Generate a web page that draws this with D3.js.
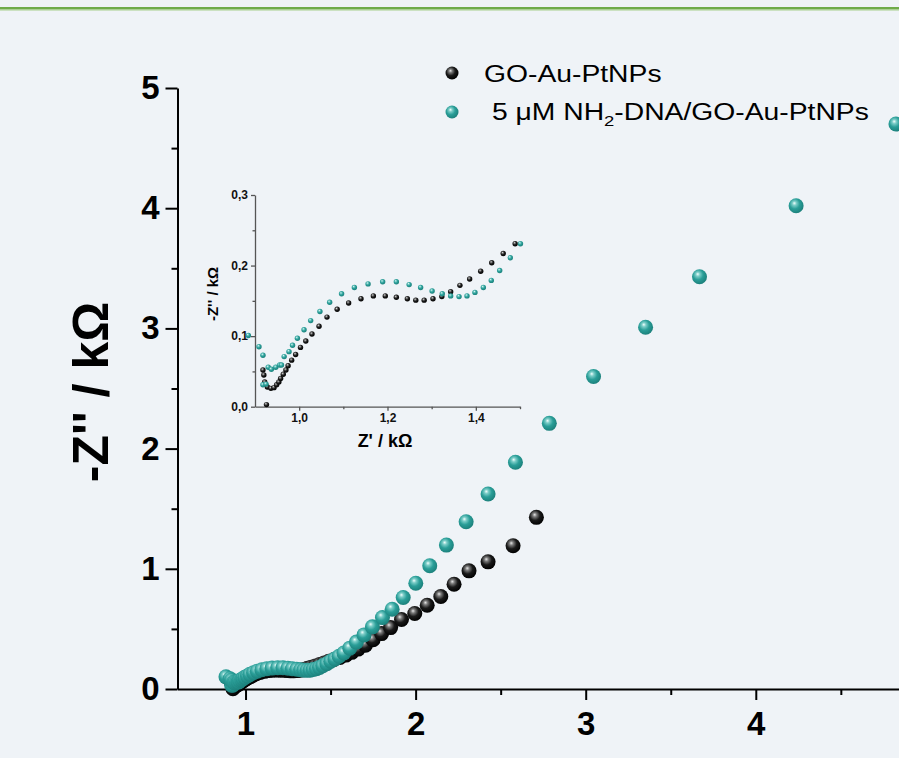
<!DOCTYPE html>
<html>
<head>
<meta charset="utf-8">
<script src="https://cdn.jsdelivr.net/npm/d3@7"></script>
<style>
  html, body { margin: 0; padding: 0; background: #eff3f7; }
  svg { display: block; font-family: Arial, "Liberation Sans", sans-serif; }
</style>
</head>
<body>
<svg id="chart" width="899" height="758"></svg>
<script>
// series 1: GO-Au-PtNPs  (Z', -Z'') in kOhm
var blackX = [0.926, 0.918, 0.920, 0.922, 0.928, 0.936, 0.943, 0.949, 0.954, 0.958, 0.964, 0.970, 0.975, 0.983, 0.992,
  1.003, 1.015, 1.029, 1.045, 1.063, 1.086, 1.112, 1.140, 1.168, 1.195, 1.220, 1.245, 1.264, 1.283, 1.303, 1.323,
  1.343, 1.364, 1.386, 1.411, 1.436, 1.462, 1.489, 1.520, 1.555, 1.590, 1.625, 1.662, 1.705, 1.750, 1.800, 1.853,
  1.917, 1.995, 2.068, 2.148, 2.226, 2.314, 2.426, 2.573, 2.710];
var blackY = [0.003, 0.052, 0.045, 0.035, 0.028, 0.026, 0.027, 0.031, 0.035, 0.040, 0.046, 0.052, 0.058, 0.066, 0.074,
  0.084, 0.093, 0.103, 0.114, 0.127, 0.138, 0.147, 0.153, 0.157, 0.157, 0.155, 0.153, 0.151, 0.151, 0.153, 0.156,
  0.163, 0.172, 0.181, 0.192, 0.204, 0.217, 0.231, 0.245, 0.262, 0.282, 0.305, 0.332, 0.365, 0.410, 0.461, 0.511,
  0.578, 0.628, 0.697, 0.769, 0.872, 0.983, 1.058, 1.192, 1.428];

// series 2: 5 uM NH2-DNA/GO-Au-PtNPs
var tealX = [0.918, 0.925, 0.885, 0.909, 0.918, 0.930, 0.937, 0.947, 0.956, 0.960, 0.966, 0.977, 0.985, 0.996, 1.011,
  1.026, 1.047, 1.069, 1.096, 1.125, 1.156, 1.189, 1.220, 1.249, 1.275, 1.301, 1.324, 1.343, 1.362, 1.380, 1.398,
  1.417, 1.435, 1.454, 1.478, 1.501, 1.525, 1.550, 1.578, 1.613, 1.652, 1.697, 1.746, 1.805, 1.862, 1.927, 2.001,
  2.083, 2.181, 2.297, 2.426, 2.587, 2.786, 3.046, 3.352, 3.669, 4.237, 4.824];
var tealY = [0.031, 0.032, 0.101, 0.085, 0.073, 0.056, 0.053, 0.056, 0.059, 0.059, 0.071, 0.078, 0.087, 0.097, 0.109,
  0.122, 0.135, 0.148, 0.160, 0.169, 0.174, 0.177, 0.177, 0.173, 0.169, 0.164, 0.160, 0.157, 0.156, 0.157, 0.162,
  0.169, 0.179, 0.193, 0.211, 0.231, 0.250, 0.272, 0.300, 0.340, 0.390, 0.450, 0.517, 0.594, 0.664, 0.761, 0.880,
  1.025, 1.197, 1.392, 1.622, 1.886, 2.210, 2.600, 3.010, 3.430, 4.020, 4.700];

var mainXTicks = [1, 2, 3, 4];
var mainXMinor = [1.5, 2.5, 3.5, 4.5];
var mainYTicks = [0, 1, 2, 3, 4, 5];
var mainYMinor = [0.5, 1.5, 2.5, 3.5, 4.5];
var insetXTicks = [1.0, 1.2, 1.4];
var insetXMinor = [1.1, 1.3, 1.5];
var insetYTicks = [0.0, 0.1, 0.2, 0.3];
var insetYMinor = [0.05, 0.15, 0.25];

var black = blackX.map(function(v, i) { return {x: v, y: blackY[i]}; });
var teal = tealX.map(function(v, i) { return {x: v, y: tealY[i]}; });

var svg = d3.select('#chart');

// top decorative rule
svg.append('rect').attr('x', 0).attr('y', 7).attr('width', 899).attr('height', 2.5).attr('fill', '#6fab4a');
svg.append('rect').attr('x', 0).attr('y', 9.5).attr('width', 899).attr('height', 1).attr('fill', '#a8d08c');

// sphere gradients
var defs = svg.append('defs');
function sphere(id, stops) {
  var g = defs.append('radialGradient').attr('id', id)
    .attr('cx', '42%').attr('cy', '40%').attr('r', '62%')
    .attr('fx', '38%').attr('fy', '32%');
  stops.forEach(function(s) {
    g.append('stop').attr('offset', s[0]).attr('stop-color', s[1]);
  });
}
sphere('ballBlack', [['0%', '#e6e6e6'], ['22%', '#7a7a7a'], ['55%', '#1a1a1a'], ['100%', '#000']]);
sphere('ballTeal', [['0%', '#f2fffd'], ['22%', '#7ccdc8'], ['55%', '#2a9e98'], ['100%', '#1b7f7a']]);

// ---- main plot ----
var x = d3.scaleLinear().domain([0.6, 4.842]).range([177.5, 899]);
var y = d3.scaleLinear().domain([0, 5]).range([689, 88]);

var gx = svg.append('g').attr('transform', 'translate(0,' + y(0) + ')')
  .call(d3.axisBottom(x).tickValues(mainXTicks).tickSize(11).tickSizeOuter(0).tickPadding(12)
    .tickFormat(d3.format('d')));
gx.append('g').call(d3.axisBottom(x).tickValues(mainXMinor).tickSize(6).tickSizeOuter(0).tickFormat(''))
  .select('.domain').remove();

var gy = svg.append('g').attr('transform', 'translate(' + x(0.6) + ',0)')
  .call(d3.axisLeft(y).tickValues(mainYTicks).tickSize(12).tickSizeOuter(0).tickPadding(6)
    .tickFormat(d3.format('d')));
gy.append('g').call(d3.axisLeft(y).tickValues(mainYMinor).tickSize(6).tickSizeOuter(0).tickFormat(''))
  .select('.domain').remove();

[gx, gy].forEach(function(g) {
  g.selectAll('path, line').attr('stroke', '#000').attr('stroke-width', 2);
  g.selectAll('text').attr('fill', '#000').attr('font-size', 33).attr('font-weight', 'bold')
    .attr('font-family', 'Arial, "Liberation Sans", sans-serif');
});
gx.selectAll('.tick text').attr('dy', '0.71em');

svg.append('text')
  .attr('transform', 'translate(108,392) rotate(-90)')
  .attr('text-anchor', 'middle')
  .attr('font-size', 50).attr('font-weight', 'bold')
  .text('-Z\'\' / k\u03A9');

svg.append('g').selectAll('circle').data(black).join('circle')
  .attr('cx', function(d) { return x(d.x); }).attr('cy', function(d) { return y(d.y); })
  .attr('r', 7.5).attr('fill', 'url(#ballBlack)');
svg.append('g').selectAll('circle').data(teal).join('circle')
  .attr('cx', function(d) { return x(d.x); }).attr('cy', function(d) { return y(d.y); })
  .attr('r', 7.5).attr('fill', 'url(#ballTeal)');

// legend
var legend = svg.append('g');
legend.append('circle').attr('cx', 452).attr('cy', 73).attr('r', 6.5).attr('fill', 'url(#ballBlack)');
legend.append('circle').attr('cx', 452).attr('cy', 112).attr('r', 6.5).attr('fill', 'url(#ballTeal)');
legend.append('text').attr('transform', 'translate(484,82) scale(1.23,1)').attr('font-size', 23)
  .text('GO-Au-PtNPs');
var l2 = legend.append('text').attr('transform', 'translate(492,120) scale(1.23,1)').attr('font-size', 23);
l2.append('tspan').text('5 \u03BCM NH');
l2.append('tspan').attr('font-size', 15).attr('dy', 6).text('2');
l2.append('tspan').attr('dy', -6).text('-DNA/GO-Au-PtNPs');

// ---- inset ----
var xi = d3.scaleLinear().domain([0.9, 1.5]).range([255, 520]);
var yi = d3.scaleLinear().domain([0, 0.3]).range([406.7, 195]);
var comma = function(d) { return d3.format('.1f')(d).replace('.', ','); };

var ix = svg.append('g').attr('transform', 'translate(0,' + yi(0) + ')')
  .call(d3.axisBottom(xi).tickValues(insetXTicks).tickSize(4).tickSizeOuter(0).tickPadding(3).tickFormat(comma));
ix.append('g').call(d3.axisBottom(xi).tickValues(insetXMinor).tickSize(2.5).tickSizeOuter(0).tickFormat(''))
  .select('.domain').remove();
var iy = svg.append('g').attr('transform', 'translate(' + xi(0.9) + ',0)')
  .call(d3.axisLeft(yi).tickValues(insetYTicks).tickSize(4).tickSizeOuter(0).tickPadding(3).tickFormat(comma));
iy.append('g').call(d3.axisLeft(yi).tickValues(insetYMinor).tickSize(2.5).tickSizeOuter(0).tickFormat(''))
  .select('.domain').remove();
[ix, iy].forEach(function(g) {
  g.selectAll('path, line').attr('stroke', '#555').attr('stroke-width', 1.3);
  g.selectAll('text').attr('fill', '#111').attr('font-size', 12).attr('font-weight', 'bold')
    .attr('font-family', 'Arial, "Liberation Sans", sans-serif');
});

svg.append('text').attr('x', 385).attr('y', 447).attr('text-anchor', 'middle')
  .attr('font-size', 18).attr('font-weight', 'bold').text('Z\' / k\u03A9');
svg.append('text').attr('transform', 'translate(218,294) rotate(-90)').attr('text-anchor', 'middle')
  .attr('font-size', 15).attr('font-weight', 'bold').text('-Z\'\' / k\u03A9');

svg.append('g').selectAll('circle').data(black).join('circle')
  .filter(function(d) { return d.x <= 1.5; })
  .attr('cx', function(d) { return xi(d.x); }).attr('cy', function(d) { return yi(d.y); })
  .attr('r', 2.7).attr('fill', 'url(#ballBlack)');
svg.append('g').selectAll('circle').data(teal).join('circle')
  .filter(function(d) { return d.x <= 1.505; })
  .attr('cx', function(d) { return xi(d.x); }).attr('cy', function(d) { return yi(d.y); })
  .attr('r', 2.7).attr('fill', 'url(#ballTeal)');
</script>
</body>
</html>
